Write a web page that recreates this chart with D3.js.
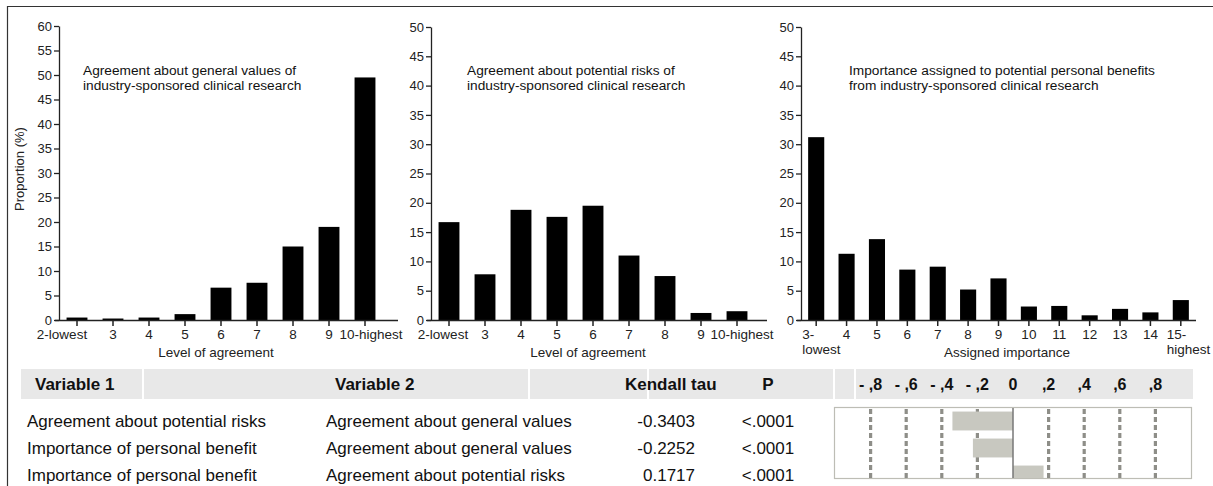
<!DOCTYPE html>
<html>
<head>
<meta charset="utf-8">
<script src="https://cdn.jsdelivr.net/npm/d3@7"></script>
<style>
  body { margin: 0; background: white; }
  svg { display: block; font-family: "Liberation Sans", Arial, sans-serif; }
</style>
</head>
<body>
<script>
// bar panels
const agreeCats = ["2-lowest", "3", "4", "5", "6", "7", "8", "9", "10-highest"];
const generalVals = [0.5, 0.3, 0.5, 1.2, 6.6, 7.6, 15.0, 19.0, 49.5];
const risksVals = [16.7, 7.8, 18.8, 17.6, 19.5, 11.0, 7.5, 1.2, 1.5];
const benefitCats = ["3-lowest", "4", "5", "6", "7", "8", "9", "10", "11", "12", "13", "14", "15-highest"];
const benefitVals = [31.2, 11.3, 13.8, 8.6, 9.1, 5.2, 7.1, 2.3, 2.4, 0.8, 1.9, 1.3, 3.4];
const ticks60 = [0, 5, 10, 15, 20, 25, 30, 35, 40, 45, 50, 55, 60];
const ticks50 = [0, 5, 10, 15, 20, 25, 30, 35, 40, 45, 50];

// correlation table
const var1 = ["Agreement about potential risks", "Importance of personal benefit", "Importance of personal benefit"];
const var2 = ["Agreement about general values", "Agreement about general values", "Agreement about potential risks"];
const tau = [-0.3403, -0.2252, 0.1717];
const pVals = ["<.0001", "<.0001", "<.0001"];
const tauTicks = [-0.8, -0.6, -0.4, -0.2, 0, 0.2, 0.4, 0.6, 0.8];
const tauTickLabels = ["- ,8", "- ,6", "- ,4", "- ,2", "0", ",2", ",4", ",6", ",8"];

const W = 1213, H = 486;
const svg = d3.select("body").append("svg")
    .attr("width", W)
    .attr("height", H);

// frame (cut at bottom and right)
svg.append("path")
    .attr("d", `M7.5,${H} V6.5 H${W}`)
    .attr("fill", "none")
    .attr("stroke", "#333")
    .attr("stroke-width", 1.2);

const y0 = 320;

function panel(opts) {
    const g = svg.append("g");
    const y = d3.scaleLinear().domain([0, opts.max]).range([y0, opts.yTop]);
    const x = d3.scaleBand().domain(opts.cats).range([opts.x0, opts.x1])
        .paddingInner(opts.pad).paddingOuter(opts.pad / 2);

    g.selectAll("rect.bar").data(opts.vals).join("rect")
        .attr("class", "bar")
        .attr("x", (d, i) => x(opts.cats[i]))
        .attr("width", x.bandwidth())
        .attr("y", d => y(d))
        .attr("height", d => y0 - y(d))
        .attr("fill", "#000");

    // y axis
    const ya = g.append("g")
        .attr("transform", `translate(${opts.x0},0)`)
        .call(d3.axisLeft(y).tickValues(opts.ticks).tickSize(5).tickSizeOuter(0).tickPadding(2));
    ya.select(".domain").attr("stroke", "#222").attr("stroke-width", 1.3);
    ya.selectAll(".tick line").attr("stroke", "#222").attr("stroke-width", 1.3);
    ya.selectAll(".tick text").attr("font-size", 13).attr("fill", "#222")
        .attr("font-family", "Liberation Sans, Arial, sans-serif");

    // x axis line and ticks
    g.append("line")
        .attr("x1", opts.x0 - 4).attr("x2", opts.xEnd)
        .attr("y1", y0 + 0.5).attr("y2", y0 + 0.5)
        .attr("stroke", "#222").attr("stroke-width", 1.3);
    const xa = g.append("g")
        .attr("transform", `translate(0,${y0})`)
        .call(d3.axisBottom(x).tickSize(6).tickSizeOuter(0).tickPadding(3));
    xa.select(".domain").remove();
    xa.selectAll(".tick line").attr("stroke", "#222").attr("stroke-width", 1.5);
    xa.selectAll(".tick text").attr("font-size", 13.5).attr("fill", "#222")
        .attr("font-family", "Liberation Sans, Arial, sans-serif");

    if (opts.shift) {
        const n = opts.cats.length;
        xa.selectAll(".tick text").attr("x", (d, i) => i === 0 ? opts.shift[0] : (i === n - 1 ? opts.shift[1] : 0));
    }

    if (opts.split) {
        xa.selectAll(".tick text").each(function (d) {
            const parts = d.split("-");
            if (parts.length < 2) return;
            const t = d3.select(this).text(null).attr("text-anchor", "start").attr("x", -14);
            t.append("tspan").attr("x", -14).text(parts[0] + "-");
            t.append("tspan").attr("x", -14).attr("dy", "1.15em").text(parts[1]);
        });
    }

    g.append("text")
        .attr("x", opts.xLabelX).attr("y", 357)
        .attr("text-anchor", "middle")
        .attr("font-size", 13.5).attr("fill", "#222")
        .text(opts.xLabel);

    const tt = g.append("text")
        .attr("x", opts.titleX).attr("y", 75)
        .attr("font-size", 13.7).attr("fill", "#111");
    opts.title.forEach((line, i) => {
        tt.append("tspan").attr("x", opts.titleX).attr("dy", i === 0 ? 0 : 15).text(line);
    });
}

panel({
    cats: agreeCats, vals: generalVals, max: 60, ticks: ticks60, yTop: 26,
    x0: 59, x1: 383, xEnd: 398, pad: 0.42, shift: [-15, 6],
    xLabel: "Level of agreement", xLabelX: 216,
    title: ["Agreement about general values of", "industry-sponsored clinical research"], titleX: 83
});
panel({
    cats: agreeCats, vals: risksVals, max: 50, ticks: ticks50, yTop: 27,
    x0: 431, x1: 755, xEnd: 767, pad: 0.42, shift: [-6, 5],
    xLabel: "Level of agreement", xLabelX: 588,
    title: ["Agreement about potential risks of", "industry-sponsored clinical research"], titleX: 467
});
panel({
    cats: benefitCats, vals: benefitVals, max: 50, ticks: ticks50, yTop: 27,
    x0: 801, x1: 1196, xEnd: 1196, pad: 0.47, split: true,
    xLabel: "Assigned importance", xLabelX: 1007,
    title: ["Importance assigned to potential personal benefits", "from industry-sponsored clinical research"], titleX: 849
});

// y label
svg.append("text")
    .attr("transform", "translate(24,169) rotate(-90)")
    .attr("text-anchor", "middle")
    .attr("font-size", 13).attr("fill", "#222")
    .text("Proportion (%)");

// ---- table ----
const hdrTop = 369, hdrH = 30;
svg.append("rect")
    .attr("x", 21).attr("y", hdrTop).attr("width", 1193 - 21).attr("height", hdrH)
    .attr("fill", "#e8e8e8");
[143, 529, 648, 834, 855].forEach(sx => {
    svg.append("line")
        .attr("x1", sx).attr("x2", sx).attr("y1", hdrTop).attr("y2", hdrTop + hdrH)
        .attr("stroke", "#fff").attr("stroke-width", 2);
});

const hdr = svg.append("g").attr("font-weight", "bold").attr("font-size", 17).attr("fill", "#111");
hdr.append("text").attr("x", 35).attr("y", 390).text("Variable 1");
hdr.append("text").attr("x", 335).attr("y", 390).text("Variable 2");
hdr.append("text").attr("x", 625).attr("y", 390).text("Kendall tau");
hdr.append("text").attr("x", 768).attr("y", 390).attr("text-anchor", "middle").text("P");

const tx = d3.scaleLinear().domain([-1, 1]).range([835, 1191]);
hdr.selectAll("text.tt").data(tauTicks).join("text")
    .attr("class", "tt")
    .attr("x", d => tx(d)).attr("y", 390)
    .attr("font-size", 16)
    .attr("text-anchor", "middle")
    .text((d, i) => tauTickLabels[i]);

const rowY = d3.scaleBand().domain([0, 1, 2]).range([407.5, 488.5]).paddingInner(0.3).paddingOuter(0.15);
const rowBase = i => rowY(i) + rowY.bandwidth() / 2 + 6;

const body = svg.append("g").attr("font-size", 17).attr("fill", "#111");
body.selectAll("text.v1").data(var1).join("text").attr("class", "v1")
    .attr("x", 27).attr("y", (d, i) => rowBase(i)).text(d => d);
body.selectAll("text.v2").data(var2).join("text").attr("class", "v2")
    .attr("x", 326).attr("y", (d, i) => rowBase(i)).text(d => d);
body.selectAll("text.tau").data(tau).join("text").attr("class", "tau")
    .attr("x", 695).attr("y", (d, i) => rowBase(i)).attr("text-anchor", "end")
    .text(d => d.toFixed(4));
body.selectAll("text.p").data(pVals).join("text").attr("class", "p")
    .attr("x", 768).attr("y", (d, i) => rowBase(i)).attr("text-anchor", "middle")
    .text(d => d);

// mini bar chart of tau
svg.append("clipPath").attr("id", "boxclip")
    .append("rect").attr("x", 834).attr("y", 407).attr("width", 358).attr("height", 71);
svg.append("rect")
    .attr("x", 834.5).attr("y", 407.5).attr("width", 357).attr("height", 71)
    .attr("fill", "#fff").attr("stroke", "#bdbdb5").attr("stroke-width", 1.2);
const fg = svg.append("g").attr("clip-path", "url(#boxclip)");
fg.selectAll("line.grid").data(tauTicks.filter(d => d !== 0)).join("line")
    .attr("class", "grid")
    .attr("x1", d => tx(d)).attr("x2", d => tx(d))
    .attr("y1", 409).attr("y2", 478)
    .attr("stroke", "#8e8e88").attr("stroke-width", 3.2)
    .attr("stroke-dasharray", "5,3");
fg.selectAll("rect.tb").data(tau).join("rect")
    .attr("class", "tb")
    .attr("x", d => tx(Math.min(0, d)))
    .attr("width", d => Math.abs(tx(d) - tx(0)))
    .attr("y", (d, i) => rowY(i))
    .attr("height", rowY.bandwidth())
    .attr("fill", "#c8c8c0");
fg.append("line")
    .attr("x1", tx(0)).attr("x2", tx(0)).attr("y1", 408).attr("y2", 478)
    .attr("stroke", "#777").attr("stroke-width", 1.5);
</script>
</body>
</html>
